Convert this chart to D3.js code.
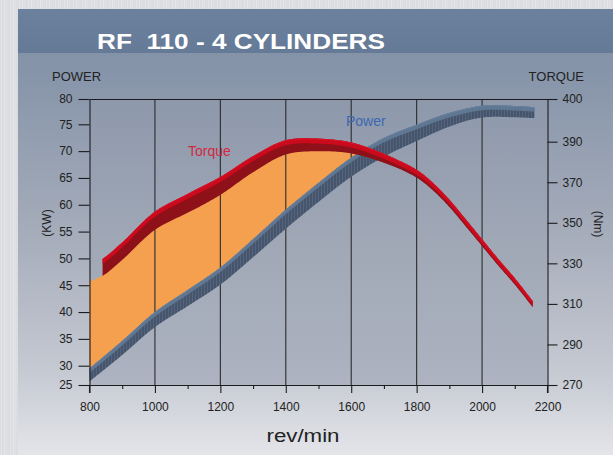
<!DOCTYPE html>
<html><head><meta charset="utf-8">
<script src="https://cdn.jsdelivr.net/npm/d3@7"></script>
<style>
html,body{margin:0;padding:0;background:#dcdde0;overflow:hidden;}
svg{display:block;}
text{font-family:"Liberation Sans",Arial,sans-serif;}
</style></head><body>
<svg id="c" width="613" height="455"></svg>
<script>
// ---------------- data ----------------
const chartTitle = "RF  110 - 4 CYLINDERS";
const rpmTicks = [800, 1000, 1200, 1400, 1600, 1800, 2000, 2200];
const rpmMinorTicks = [900, 1100, 1300, 1500, 1700, 1900, 2100];
const powerTicks = [25, 30, 35, 40, 45, 50, 55, 60, 65, 70, 75, 80];
const torqueTicks = [270, 290, 310, 330, 350, 370, 390, 400];
const powerRpm = [800, 900, 1000, 1100, 1200, 1300, 1400, 1500, 1600, 1700, 1800, 1900, 2000, 2100, 2160];
const powerKw  = [27.6, 33.3, 38.6, 42.6, 46.7, 51.9, 57.3, 62.3, 67.0, 70.7, 73.4, 75.9, 77.5, 77.5, 77.3];
const torqueRpm = [800, 840, 900, 1000, 1100, 1200, 1300, 1400, 1500, 1600, 1700, 1800, 1850, 1900, 1950, 2000, 2050, 2100, 2155];
const torqueNm  = [325, 328, 336, 351, 359.6, 368.2, 378.9, 387.2, 388.4, 386.9, 381.8, 374.2, 367.8, 359.6, 350.0, 340.2, 330.4, 321.1, 309.8];
const torqueStartRpm = 840;

// ---------------- layout ----------------
const svg = d3.select("#c");
const defs = svg.append("defs");
const x = d3.scaleLinear().domain([800, 2200]).range([89.5, 547.5]);
const yP = d3.scaleLinear().domain([25, 30, 75, 80]).range([385, 365.7, 124.3, 99]);
const yT = d3.scaleLinear().domain([270, 390, 400]).range([385, 141.7, 99]);
const plotTop = yP(80), plotBottom = yP(25), plotLeft = x(800), plotRight = x(2200);

function vGrad(id, stops, y1, y2) {
  const g = defs.append("linearGradient").attr("id", id).attr("gradientUnits", "userSpaceOnUse")
    .attr("x1", 0).attr("x2", 0).attr("y1", y1).attr("y2", y2);
  stops.forEach(s => g.append("stop").attr("offset", s[0]).attr("stop-color", s[1]));
}
vGrad("panelG", [[0, "#7f8fa5"], [0.15, "#8795aa"], [0.5, "#a5acba"], [0.82, "#c6cad3"], [1, "#e4e5e9"]], 9, 455);
vGrad("plotG", [[0, "#8d98ab"], [0.5, "#a0a8b6"], [1, "#adb3c0"]], plotTop, plotBottom);
vGrad("headG", [[0, "#6c819d"], [1, "#657a96"]], 9, 53);

// brushed metal texture
const brush = defs.append("pattern").attr("id", "brush").attr("patternUnits", "userSpaceOnUse").attr("width", 9).attr("height", 10);
brush.append("rect").attr("width", 9).attr("height", 10).attr("fill", "#dcdde0");
[[1, 0.2], [4, 0.28], [6, 0.16]].forEach(l => brush.append("rect").attr("x", l[0]).attr("width", 1).attr("height", 10).attr("fill", "#fff").attr("opacity", l[1]));

// power hatch
const hatch = defs.append("pattern").attr("id", "hatch").attr("patternUnits", "userSpaceOnUse").attr("width", 3).attr("height", 4);
hatch.append("rect").attr("width", 3).attr("height", 4).attr("fill", "#46556b");
hatch.append("rect").attr("width", 0.8).attr("height", 4).attr("fill", "#566880");

svg.append("rect").attr("width", 613).attr("height", 455).attr("fill", "url(#brush)");
svg.append("rect").attr("x", 18).attr("y", 9).attr("width", 595).attr("height", 446).attr("fill", "url(#panelG)");
svg.append("rect").attr("x", 18).attr("y", 9).attr("width", 595).attr("height", 44).attr("fill", "url(#headG)");
svg.append("text").attr("x", 97).attr("y", 49).attr("fill", "#fff").attr("font-weight", "bold")
  .style("white-space", "pre").attr("xml:space", "preserve")
  .attr("font-size", 22).attr("textLength", 288).attr("lengthAdjust", "spacingAndGlyphs").text(chartTitle);

svg.append("rect").attr("x", plotLeft).attr("y", plotTop).attr("width", plotRight - plotLeft)
  .attr("height", plotBottom - plotTop).attr("fill", "url(#plotG)");

// ---------------- curve sampling ----------------
const probe = defs.append("path");
function sampler(xs, ys, yScale) {
  const pts = xs.map((r, i) => [x(r), yScale(ys[i])]);
  probe.attr("d", d3.line().curve(d3.curveCatmullRom.alpha(0.5))(pts));
  const node = probe.node(), L = node.getTotalLength(), arr = [];
  for (let l = 0; l <= L; l += 0.5) { const q = node.getPointAtLength(l); arr.push([q.x, q.y]); }
  arr.sort((a, b) => a[0] - b[0]);
  const bis = d3.bisector(d => d[0]).left;
  return px => {
    let i = bis(arr, px);
    if (i <= 0) return arr[0][1];
    if (i >= arr.length) return arr[arr.length - 1][1];
    const a = arr[i - 1], b = arr[i];
    const t = b[0] === a[0] ? 0 : (px - a[0]) / (b[0] - a[0]);
    return a[1] + t * (b[1] - a[1]);
  };
}
const powerC = sampler(powerRpm, powerKw, yP);
const torqueC = sampler(torqueRpm, torqueNm, yT);
const torqueDepth = d3.scaleLinear().domain([100, 200, 290, 350, 400, 540]).range([17, 19, 14, 11, 8, 6]).clamp(true);
const powerDepth = d3.scaleLinear().domain([89, 285, 383, 470, 535]).range([13, 19, 19, 12, 11]).clamp(true);

// ---------------- orange band ----------------
const bandPts = d3.range(x(800), x(1700), 1).map(px => {
  const lo = powerC(px) - powerDepth(px) / 2;
  const hi = torqueC(px) + torqueDepth(px) / 2 - 0.5;
  return { x: px, y0: lo, y1: Math.min(hi, lo) };
});
svg.append("path").datum(bandPts).attr("fill", "#f5a04f")
  .attr("d", d3.area().x(d => d.x).y0(d => d.y0).y1(d => d.y1));

// ---------------- grid ----------------
svg.append("g").selectAll("line").data(rpmTicks.slice(1, -1)).join("line")
  .attr("x1", d => x(d)).attr("x2", d => x(d)).attr("y1", plotTop).attr("y2", plotBottom)
  .attr("stroke", "#2c2c2e").attr("stroke-width", 1.1);

// ---------------- ribbons ----------------
function ribbon(cFn, depth, face, r0, r1, front, top, edge) {
  const p0 = x(r0), p1 = x(r1);
  const pts = d3.range(p0, p1, 1).concat([p1]).map(px => {
    const c = cFn(px), t = depth(px);
    return { x: px, top: c - t / 2, bot: c + t / 2, f: Math.min(face, t - 1.5) };
  });
  const g = svg.append("g");
  g.append("path").datum(pts).attr("fill", front).attr("d", d3.area().x(d => d.x).y0(d => d.top).y1(d => d.bot));
  g.append("path").datum(pts).attr("fill", top).attr("d", d3.area().x(d => d.x).y0(d => d.top).y1(d => d.top + d.f));
  g.append("path").datum(pts).attr("fill", "none").attr("stroke", edge).attr("stroke-width", 0.8)
    .attr("d", d3.line().x(d => d.x).y(d => d.top + 0.4));
}
ribbon(powerC, powerDepth, 4.5, powerRpm[0], powerRpm[powerRpm.length - 1], "url(#hatch)", "#5f7792", "#6d86a3");
ribbon(torqueC, torqueDepth, 5, torqueStartRpm, torqueRpm[torqueRpm.length - 1], "#8e1018", "#cc0a1e", "#de1a2e");

// ---------------- axes ----------------
const fmt = d3.format("d");
function styleAxis(g) {
  g.selectAll("path,line").attr("stroke", "#1c1c1e").attr("stroke-width", 1.1);
  g.selectAll("text").attr("fill", "#222").attr("font-size", 12)
    .attr("font-family", "'Liberation Sans',Arial,sans-serif");
}
svg.append("g").attr("transform", `translate(0,${plotTop})`)
  .call(d3.axisTop(x).tickValues([]).tickSizeOuter(0)).call(styleAxis);
svg.append("g").attr("transform", `translate(0,${plotBottom})`)
  .call(d3.axisBottom(x).tickValues(rpmMinorTicks).tickSize(4).tickFormat("").tickSizeOuter(0)).call(styleAxis);
svg.append("g").attr("transform", `translate(0,${plotBottom})`)
  .call(d3.axisBottom(x).tickValues(rpmTicks).tickSize(8).tickPadding(9).tickFormat(fmt).tickSizeOuter(0)).call(styleAxis);
svg.append("g").attr("transform", `translate(${plotLeft},0)`)
  .call(d3.axisLeft(yP).tickValues(powerTicks).tickSize(11).tickPadding(6).tickFormat(fmt).tickSizeOuter(0)).call(styleAxis);
svg.append("g").attr("transform", `translate(${plotRight},0)`)
  .call(d3.axisRight(yT).tickValues(torqueTicks).tickSize(10).tickPadding(5).tickFormat(fmt).tickSizeOuter(0)).call(styleAxis);
svg.append("g").selectAll("line").data([800, 2200]).join("line")
  .attr("x1", d => x(d)).attr("x2", d => x(d)).attr("y1", plotBottom).attr("y2", plotBottom + 8)
  .attr("stroke", "#1c1c1e").attr("stroke-width", 1.1);

// ---------------- labels ----------------
const lab = (t, xx, yy, opts = {}) => {
  const e = svg.append("text").attr("x", xx).attr("y", yy).attr("fill", opts.fill || "#222")
    .attr("font-size", opts.size || 13).attr("text-anchor", opts.anchor || "start").text(t);
  if (opts.rot) e.attr("transform", `rotate(${opts.rot},${xx},${yy})`);
  if (opts.len) e.attr("textLength", opts.len).attr("lengthAdjust", "spacingAndGlyphs");
  return e;
};
lab("POWER", 52, 81, { size: 13 });
lab("TORQUE", 584, 81, { size: 13, anchor: "end" });
lab("(KW)", 51, 223, { size: 12, anchor: "middle", rot: -90 });
lab("(Nm)", 594, 224, { size: 12, anchor: "middle", rot: 90 });
lab("rev/min", 303, 442, { size: 18, anchor: "middle", len: 73 });
lab("Torque", 188, 156, { size: 14, fill: "#d3283f" });
lab("Power", 346, 126, { size: 14, fill: "#3b68b1" });
</script>
</body></html>
